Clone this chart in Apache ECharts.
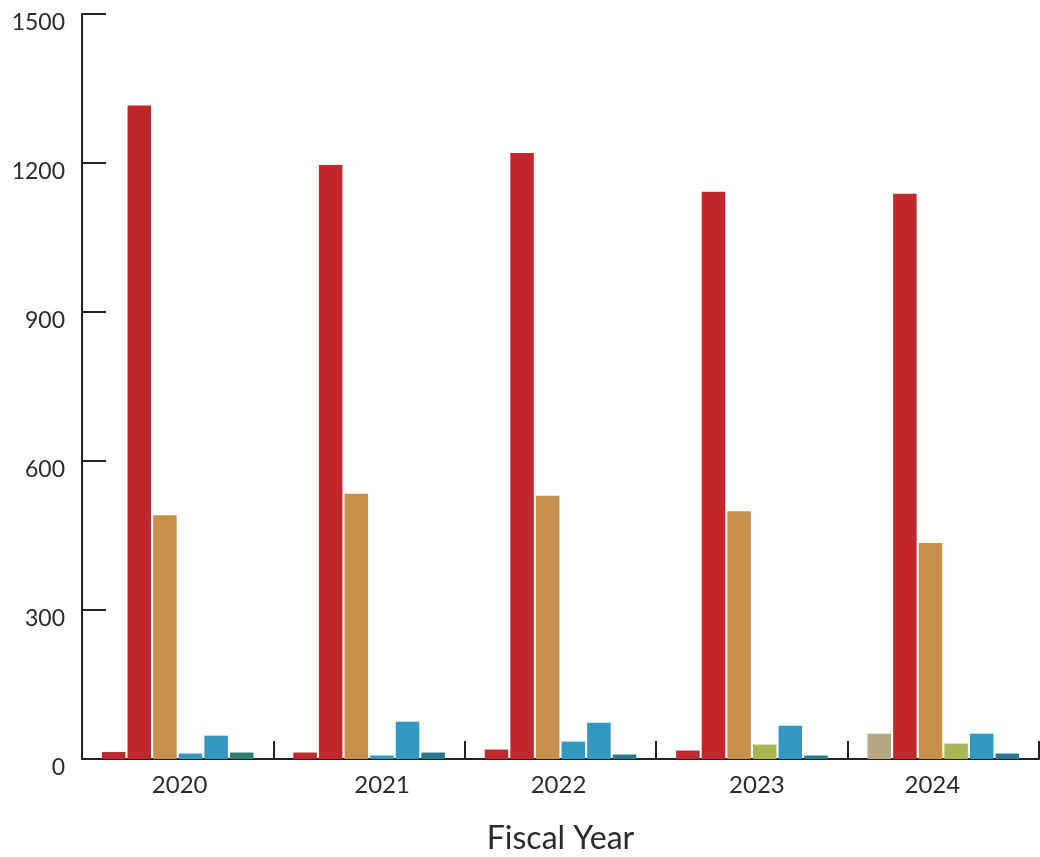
<!DOCTYPE html>
<html>
<head>
<meta charset="utf-8">
<script src="https://cdn.jsdelivr.net/npm/echarts@6/dist/echarts.min.js"></script>
<style>
html,body{margin:0;padding:0;background:#fff;}
#chart{width:1040px;height:857px;}
</style>
</head>
<body>
<div id="chart"></div>
<script>
const years = ['2020', '2021', '2022', '2023', '2024'];
const yTicks = [0, 300, 600, 900, 1200, 1500];
// six bar slots per year, colours vary per year
const slot1 = [14, 13, 19, 17, 51];
const slot1Colors = ['#c1272d', '#c1272d', '#c1272d', '#c1272d', '#b5a77f'];
const slot2 = [1316, 1196, 1220, 1142, 1138];
const slot2Colors = ['#c1272d', '#c1272d', '#c1272d', '#c1272d', '#c1272d'];
const slot3 = [491, 534, 530, 499, 435];
const slot3Colors = ['#c6904b', '#c6904b', '#c6904b', '#c6904b', '#c6904b'];
const slot4 = [11, 7, 35, 29, 31];
const slot4Colors = ['#3398bf', '#3398bf', '#3398bf', '#aab553', '#aab553'];
const slot5 = [47, 75, 73, 67, 51];
const slot5Colors = ['#3398bf', '#3398bf', '#3398bf', '#3398bf', '#3398bf'];
const slot6 = [13, 13, 9, 7, 11];
const slot6Colors = ['#2e8074', '#27778b', '#27778b', '#27778b', '#27778b'];

const slots = [
  [slot1, slot1Colors], [slot2, slot2Colors], [slot3, slot3Colors],
  [slot4, slot4Colors], [slot5, slot5Colors], [slot6, slot6Colors]
];

const FONT = 'Lato, "Noto Sans", sans-serif';
// small horizontal nudges of the year labels, as in the original layout (px)
const labelNudge = [2, 13, -2, 5, -11];
const rich = {};
labelNudge.forEach((d, i) => {
  rich['n' + i] = {
    fontFamily: FONT, fontSize: 24, color: '#2b2b2b',
    padding: [0, d < 0 ? -2 * d : 0, 0, d > 0 ? 2 * d : 0]
  };
});

const chart = echarts.init(document.getElementById('chart'), null, {renderer: 'canvas'});
chart.setOption({
  animation: false,
  backgroundColor: '#fff',
  grid: {left: 82, right: 1, top: 14, bottom: 98, containLabel: false, outerBoundsMode: 'none'},
  xAxis: {
    type: 'category',
    data: years,
    name: 'Fiscal Year',
    nameLocation: 'middle',
    nameGap: 64,
    nameTextStyle: {fontFamily: FONT, fontSize: 32, color: '#2b2b2b'},
    axisLine: {lineStyle: {color: '#222', width: 2}},
    axisTick: {show: true, inside: true, length: 18, interval: 0, lineStyle: {color: '#222', width: 2}},
    axisLabel: {
      fontFamily: FONT, fontSize: 24, color: '#2b2b2b', margin: 14,
      formatter: (v, i) => '{n' + i + '|' + v + '}',
      rich: rich
    }
  },
  yAxis: {
    type: 'value',
    min: 0, max: 1500, interval: 300,
    axisLine: {show: true, lineStyle: {color: '#222', width: 2}},
    axisTick: {show: true, inside: true, length: 24, lineStyle: {color: '#222', width: 2}},
    splitLine: {show: false},
    axisLabel: {
      fontFamily: FONT, fontSize: 23, color: '#2b2b2b', margin: 17,
      verticalAlign: 'top', lineHeight: 17,
      formatter: v => yTicks.includes(v) ? String(v) : ''
    }
  },
  series: slots.map(([vals, cols], i) => ({
    type: 'bar',
    name: 'S' + (i + 1),
    barWidth: 23.5,
    barGap: '9%',
    data: vals.map((v, j) => ({value: v, itemStyle: {color: cols[j]}}))
  }))
});
</script>
</body>
</html>
